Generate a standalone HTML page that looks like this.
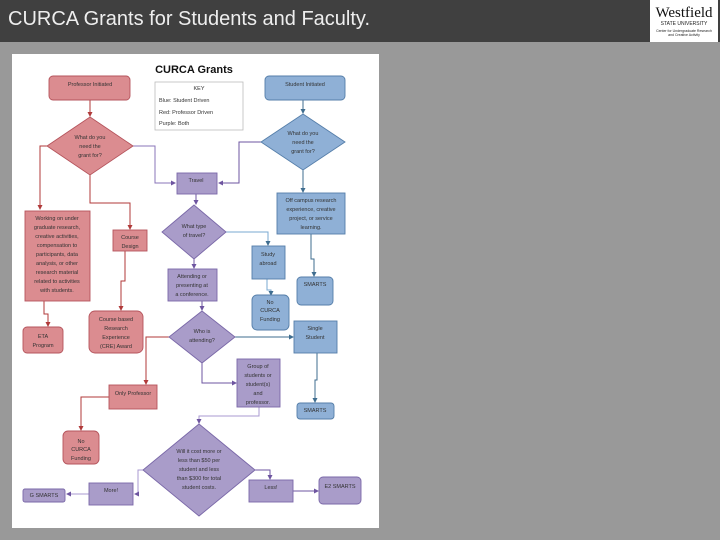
<!DOCTYPE html>
<html><head><meta charset="utf-8"><style>
html,body{margin:0;padding:0}
body{width:720px;height:540px;background:#999;position:relative;overflow:hidden;font-family:"Liberation Sans",sans-serif}
#hdr{position:absolute;left:0;top:0;width:720px;height:42px;background:#404040}
#ttl{position:absolute;left:8px;top:8px;color:#eee;font-size:20px;white-space:nowrap}
#logo{position:absolute;left:650px;top:0;width:68px;height:42px;background:#fff}
#doc{position:absolute;left:12px;top:54px;width:367px;height:474px;background:#fff}
svg{position:absolute;left:0;top:0}
text{font-family:"Liberation Sans",sans-serif;fill:#333}
</style></head><body>
<div id="hdr"><div id="ttl">CURCA Grants for Students and Faculty.</div>
<div id="logo"><svg width="68" height="42">
<text x="34" y="17" font-family="Liberation Serif" font-size="15" text-anchor="middle" style="font-family:'Liberation Serif',serif;fill:#111">Westfield</text>
<text x="34" y="25" font-size="5" text-anchor="middle" style="fill:#222">STATE UNIVERSITY</text>
<text x="34" y="32" font-size="3.5" text-anchor="middle" style="fill:#222">Center for Undergraduate Research</text>
<text x="34" y="36" font-size="3.5" text-anchor="middle" style="fill:#222">and Creative Activity</text>
</svg></div></div>
<div id="doc"></div>
<svg width="720" height="540">
<defs>
<marker id="ar" markerWidth="5" markerHeight="5" refX="4" refY="2.5" orient="auto"><path d="M0,0L5,2.5L0,5z" fill="#b03a3a"/></marker>
<marker id="ap" markerWidth="5" markerHeight="5" refX="4" refY="2.5" orient="auto"><path d="M0,0L5,2.5L0,5z" fill="#6e55a0"/></marker>
<marker id="ab" markerWidth="5" markerHeight="5" refX="4" refY="2.5" orient="auto"><path d="M0,0L5,2.5L0,5z" fill="#3f6d8f"/></marker>
</defs>
<text x="194" y="73" font-size="11" font-weight="bold" text-anchor="middle" style="fill:#111">CURCA Grants</text>
<rect x="155" y="82" width="88" height="48" fill="#fff" stroke="#bbb" stroke-width="0.8"/>
<g font-size="5.5"><text x="199" y="90" text-anchor="middle">KEY</text>
<text x="159" y="102">Blue: Student Driven</text><text x="159" y="114">Red: Professor Driven</text><text x="159" y="125">Purple: Both</text></g>

<g fill="none" stroke-width="1">
<!-- red connectors -->
<polyline points="90,100 90,116" stroke="#b03a3a" marker-end="url(#ar)"/>
<polyline points="49,146 40,146 40,178 40,209" stroke="#b03a3a" marker-end="url(#ar)"/>
<polyline points="90,175 90,203 130,203 130,229" stroke="#b03a3a" marker-end="url(#ar)"/>
<polyline points="44,301 44,314 48,314 48,326" stroke="#b03a3a" marker-end="url(#ar)"/>
<polyline points="125,251 125,281 121,281 121,310" stroke="#b03a3a" marker-end="url(#ar)"/>
<polyline points="169,337 146,337 146,384" stroke="#b03a3a" marker-end="url(#ar)"/>
<polyline points="109,397 81,397 81,430" stroke="#b03a3a" marker-end="url(#ar)"/>
<!-- purple -->
<polyline points="133,146 155,146 155,183 175,183" stroke="#8a74b8" marker-end="url(#ap)"/>
<polyline points="261,142 239,142 239,183 219,183" stroke="#6e55a0" marker-end="url(#ap)"/>
<polyline points="196,194 196,204" stroke="#6e55a0" marker-end="url(#ap)"/>
<polyline points="194,259 194,268" stroke="#6e55a0" marker-end="url(#ap)"/>
<polyline points="202,301 202,310" stroke="#6e55a0" marker-end="url(#ap)"/>
<polyline points="202,363 202,383 236,383" stroke="#6e55a0" marker-end="url(#ap)"/>
<polyline points="259,407 259,416 199,416 199,423" stroke="#a99ad0" marker-end="url(#ap)"/>
<polyline points="143,470 138,470 138,494 135,494" stroke="#a99ad0" marker-end="url(#ap)"/>
<polyline points="89,494 67,494" stroke="#a99ad0" marker-end="url(#ap)"/>
<polyline points="255,470 270,470 270,479" stroke="#6e55a0" marker-end="url(#ap)"/>
<polyline points="293,491 318,491" stroke="#6e55a0" marker-end="url(#ap)"/>
<!-- blue -->
<polyline points="303,100 303,113" stroke="#3f6d8f" marker-end="url(#ab)"/>
<polyline points="303,170 303,192" stroke="#3f6d8f" marker-end="url(#ab)"/>
<polyline points="226,232 268,232 268,245" stroke="#7aa8d0" marker-end="url(#ab)"/>
<polyline points="311,234 311,259 314,259 314,276" stroke="#3f6d8f" marker-end="url(#ab)"/>
<polyline points="267,279 267,290 271,290 271,295" stroke="#7aa8d0" marker-end="url(#ab)"/>
<polyline points="235,337 293,337" stroke="#3f6d8f" marker-end="url(#ab)"/>
<polyline points="317,353 317,380 315,380 315,402" stroke="#3f6d8f" marker-end="url(#ab)"/>
</g>

<g stroke-width="0.9">
<!-- red -->
<rect x="49" y="76" width="81" height="24" rx="4" fill="#db8c90" stroke="#b5545c"/>
<polygon points="90,117 133,146 90,175 47,146" fill="#db8c90" stroke="#b5545c"/>
<rect x="25" y="211" width="65" height="90" fill="#db8c90" stroke="#b5545c"/>
<rect x="113" y="230" width="34" height="21" fill="#db8c90" stroke="#b5545c"/>
<rect x="23" y="327" width="40" height="26" rx="4" fill="#db8c90" stroke="#b5545c"/>
<rect x="89" y="311" width="54" height="42" rx="6" fill="#db8c90" stroke="#b5545c"/>
<rect x="109" y="385" width="48" height="24" fill="#db8c90" stroke="#b5545c"/>
<rect x="63" y="431" width="36" height="33" rx="5" fill="#db8c90" stroke="#b5545c"/>
<!-- blue -->
<rect x="265" y="76" width="80" height="24" rx="4" fill="#8fb0d6" stroke="#557ea9"/>
<polygon points="303,114 345,142 303,170 261,142" fill="#8fb0d6" stroke="#557ea9"/>
<rect x="277" y="193" width="68" height="41" fill="#8fb0d6" stroke="#557ea9"/>
<rect x="252" y="246" width="33" height="33" fill="#8fb0d6" stroke="#557ea9"/>
<rect x="297" y="277" width="36" height="28" rx="4" fill="#8fb0d6" stroke="#557ea9"/>
<rect x="252" y="295" width="37" height="35" rx="5" fill="#8fb0d6" stroke="#557ea9"/>
<rect x="294" y="321" width="43" height="32" fill="#8fb0d6" stroke="#557ea9"/>
<rect x="297" y="403" width="37" height="16" rx="3" fill="#8fb0d6" stroke="#557ea9"/>
<!-- purple -->
<rect x="177" y="173" width="40" height="21" fill="#a99cc9" stroke="#7a68a8"/>
<polygon points="194,205 226,232 194,259 162,232" fill="#a99cc9" stroke="#7a68a8"/>
<rect x="168" y="269" width="49" height="32" fill="#a99cc9" stroke="#7a68a8"/>
<polygon points="202,311 235,337 202,363 169,337" fill="#a99cc9" stroke="#7a68a8"/>
<rect x="237" y="359" width="43" height="48" fill="#a99cc9" stroke="#7a68a8"/>
<polygon points="199,424 255,470 199,516 143,470" fill="#a99cc9" stroke="#7a68a8"/>
<rect x="89" y="483" width="44" height="22" fill="#a99cc9" stroke="#7a68a8"/>
<rect x="23" y="489" width="42" height="13" rx="2" fill="#a99cc9" stroke="#7a68a8"/>
<rect x="249" y="480" width="44" height="22" fill="#a99cc9" stroke="#7a68a8"/>
<rect x="319" y="477" width="42" height="27" rx="4" fill="#a99cc9" stroke="#7a68a8"/>
</g>

<g font-size="5.5" text-anchor="middle">
<text x="90" y="86">Professor Initiated</text>
<text x="90" y="139">What do you</text><text x="90" y="148">need the</text><text x="90" y="157">grant for?</text>
<text x="57" y="220">Working on under</text><text x="57" y="229">graduate research,</text><text x="57" y="238">creative activities,</text><text x="57" y="247">compensation to</text><text x="57" y="256">participants, data</text><text x="57" y="265">analysis, or other</text><text x="57" y="274">research material</text><text x="57" y="283">related to activities</text><text x="57" y="292">with students.</text>
<text x="130" y="239">Course</text><text x="130" y="248">Design</text>
<text x="43" y="338">ETA</text><text x="43" y="347">Program</text>
<text x="116" y="321">Course based</text><text x="116" y="330">Research</text><text x="116" y="339">Experience</text><text x="116" y="348">(CRE) Award</text>
<text x="133" y="395">Only Professor</text>
<text x="81" y="443">No</text><text x="81" y="451">CURCA</text><text x="81" y="460">Funding</text>
<text x="305" y="86">Student Initiated</text>
<text x="303" y="135">What do you</text><text x="303" y="144">need the</text><text x="303" y="153">grant for?</text>
<text x="311" y="202">Off campus research</text><text x="311" y="211">experience, creative</text><text x="311" y="220">project, or service</text><text x="311" y="229">learning.</text>
<text x="268" y="256">Study</text><text x="268" y="265">abroad</text>
<text x="315" y="286">SMARTS</text>
<text x="270" y="304">No</text><text x="270" y="312">CURCA</text><text x="270" y="321">Funding</text>
<text x="315" y="330">Single</text><text x="315" y="339">Student</text>
<text x="315" y="412">SMARTS</text>
<text x="196" y="182">Travel</text>
<text x="194" y="228">What type</text><text x="194" y="237">of travel?</text>
<text x="192" y="278">Attending or</text><text x="192" y="287">presenting at</text><text x="192" y="296">a conference.</text>
<text x="202" y="333">Who is</text><text x="202" y="342">attending?</text>
<text x="258" y="368">Group of</text><text x="258" y="377">students or</text><text x="258" y="386">student(s)</text><text x="258" y="395">and</text><text x="258" y="404">professor.</text>
<text x="199" y="453">Will it cost more or</text><text x="199" y="462">less than $50 per</text><text x="199" y="471">student and less</text><text x="199" y="480">than $300 for total</text><text x="199" y="489">student costs.</text>
<text x="111" y="492">More!</text>
<text x="44" y="497">G SMARTS</text>
<text x="271" y="489">Less!</text>
<text x="340" y="488">E2 SMARTS</text>
</g>
</svg>
</body></html>
